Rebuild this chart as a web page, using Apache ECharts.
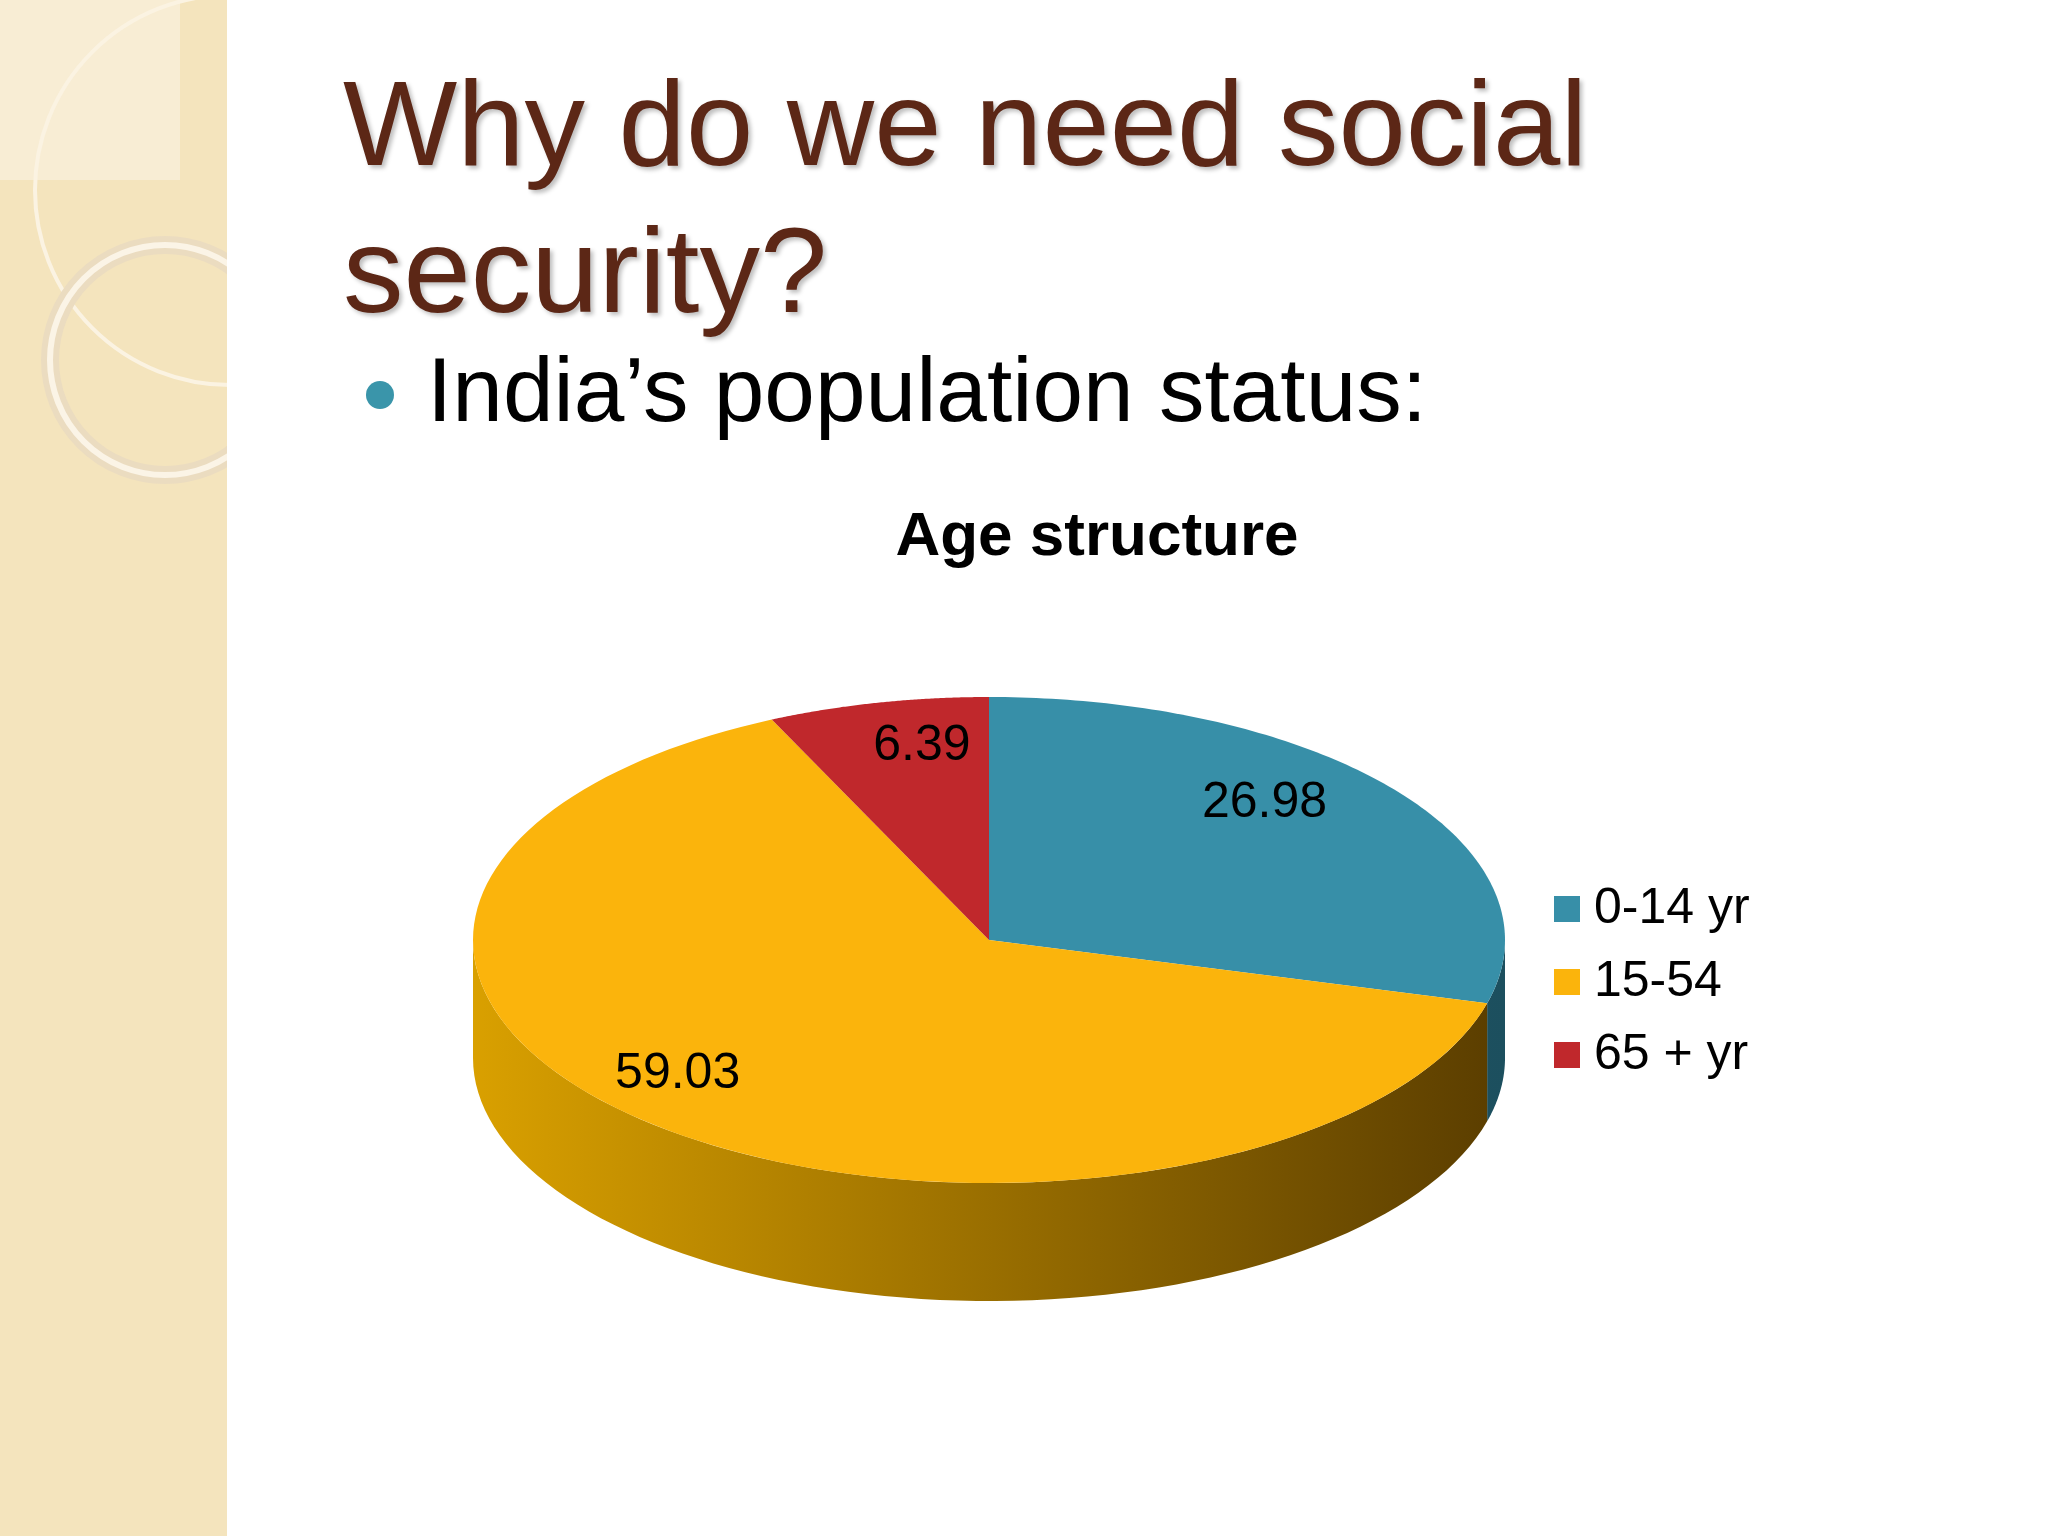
<!DOCTYPE html>
<html><head><meta charset="utf-8">
<script src="https://cdn.jsdelivr.net/npm/echarts@6/dist/echarts.min.js"></script>
<style>html,body{margin:0;padding:0;background:#fff}#c{width:2048px;height:1536px}</style>
</head><body><div id="c"></div>
<script>
const categories = ['0-14 yr', '15-54', '65 + yr'];
const values = [26.98, 59.03, 6.39];
const topColors = ['#378fa8', '#fbb40c', '#c0282c'];
const sideColors = [['#2a7388', '#1c4f5e'], ['#d9a000', '#5a3d00'], ['#a01f22', '#6a1416']];

const total = values.reduce((a, b) => a + b, 0);
let acc = 0;
const slices = values.map((v, i) => { const s = acc; acc += v; return [s / total, acc / total, v, i]; });

const CX = 989, CY = 940, RX = 516, RY = 243, DEPTH = 118;
function pt(a) { return [CX + RX * Math.sin(a), CY - RY * Math.cos(a)]; }
const labelShift = [[-44, -22], [-72, 0], [13, -23]];

const chart = echarts.init(document.getElementById('c'));
chart.setOption({
  backgroundColor: '#fff',
  animation: false,
  graphic: [
    { type: 'rect', shape: { x: 0, y: 0, width: 227, height: 1536 }, style: { fill: '#f4e4bd' } },
    { type: 'rect', shape: { x: 0, y: 0, width: 180, height: 180 }, style: { fill: '#f8edd4' } },
    { type: 'circle', shape: { cx: 230, cy: 190, r: 195 }, style: { fill: 'none', stroke: '#fbf3e2', lineWidth: 4 } },
    { type: 'circle', shape: { cx: 165, cy: 360, r: 115 }, style: { fill: 'none', stroke: '#ebdcc0', lineWidth: 18 } },
    { type: 'circle', shape: { cx: 165, cy: 360, r: 115 }, style: { fill: 'none', stroke: '#fbf4e6', lineWidth: 6 } },
    { type: 'rect', shape: { x: 227, y: 0, width: 1821, height: 1536 }, style: { fill: '#fff' } },
    { type: 'text', left: 343, top: 58, style: { text: 'Why do we need social\nsecurity?', font: '121px "Liberation Sans", Arial', fill: '#5c2716', lineHeight: 147, textShadowColor: 'rgba(0,0,0,0.25)', textShadowOffsetX: 3, textShadowOffsetY: 3, textShadowBlur: 4 } },
    { type: 'circle', shape: { cx: 380, cy: 395, r: 14 }, style: { fill: '#3a95aa' } },
    { type: 'text', left: 427, top: 350, style: { text: 'India\u2019s population status:', font: '91px "Liberation Sans", Arial', fill: '#000' } },
    { type: 'text', x: 1097, y: 538, style: { text: 'Age structure', font: 'bold 62px "Liberation Sans", Arial', fill: '#000', align: 'center', verticalAlign: 'middle' } }
  ],
  series: [{
    type: 'custom',
    coordinateSystem: 'none',
    data: slices,
    renderItem: function (params, api) {
      const s = api.value(0), e = api.value(1), v = api.value(2), i = api.value(3);
      const a0 = s * 2 * Math.PI, a1 = e * 2 * Math.PI;
      const children = [];
      const f0 = Math.max(a0, Math.PI / 2), f1 = Math.min(a1, 3 * Math.PI / 2);
      if (f1 > f0) {
        const top = [], bot = [];
        const n = 80;
        for (let k = 0; k <= n; k++) { const a = f0 + (f1 - f0) * k / n; const p = pt(a); top.push(p); bot.push([p[0], p[1] + DEPTH]); }
        children.push({ type: 'polygon', z2: 1, shape: { points: top.concat(bot.reverse()) },
          style: { fill: { type: 'linear', x: CX - RX, y: 0, x2: CX + RX, y2: 0, global: true,
            colorStops: [{ offset: 0, color: sideColors[i][0] }, { offset: 1, color: sideColors[i][1] }] } } });
      }
      const pts = [[CX, CY]];
      const n = 120;
      for (let k = 0; k <= n; k++) pts.push(pt(a0 + (a1 - a0) * k / n));
      children.push({ type: 'polygon', z2: 2, shape: { points: pts }, style: { fill: topColors[i] } });
      const m = (a0 + a1) / 2;
      const lr = [0.78, 0.72, 0.72][i];
      const lx = CX + RX * lr * Math.sin(m) + labelShift[i][0], ly = CY - RY * lr * Math.cos(m) + labelShift[i][1];
      children.push({ type: 'text', z2: 5, x: lx, y: ly, style: { text: v.toFixed(2), font: '50px "Liberation Sans", Arial', fill: '#000', align: 'center', verticalAlign: 'middle' } });
      const ly2 = 909 + i * 73;
      children.push({ type: 'rect', z2: 5, shape: { x: 1554, y: ly2 - 13, width: 26, height: 26 }, style: { fill: topColors[i] } });
      children.push({ type: 'text', z2: 5, x: 1594, y: ly2, style: { text: categories[i], font: '50px "Liberation Sans", Arial', fill: '#000', verticalAlign: 'middle' } });
      return { type: 'group', children: children };
    }
  }]
});
</script></body></html>
